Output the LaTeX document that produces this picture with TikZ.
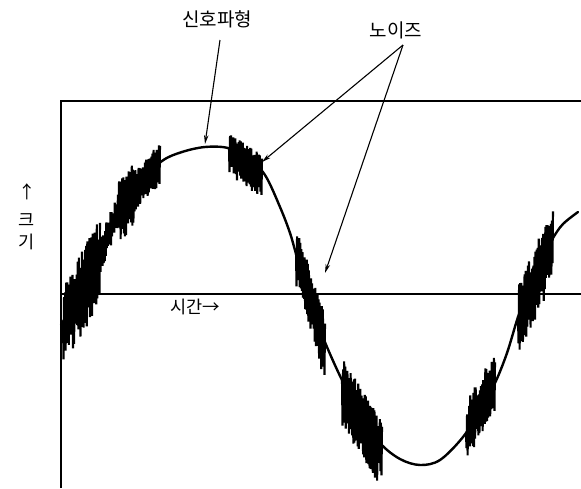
\documentclass[tikz,border=0pt]{standalone}
\usepackage{fontspec}
\newfontfamily\kr{Noto Sans CJK KR}
\usetikzlibrary{arrows.meta}
\tikzset{
  lbl/.style={font=\kr\fontsize{19}{20}\selectfont, inner sep=0pt},
  axlbl/.style={font=\kr\fontsize{17.5}{18}\selectfont, inner sep=0pt},
  frameline/.style={line width=1.5pt},
  wave/.style={line width=2.4pt, line join=round, line cap=round},
  noiseline/.style={line width=2.1pt, line join=miter},
  pointer/.style={line width=1.1pt, -{Stealth[length=9pt,width=4.5pt]}}
}
\newcommand\noiseburst[8]{%
  \pgfmathsetseed{#7}%
  \draw[noiseline] (#1,#2) \foreach \i in {1,...,#8}{
    -- ({#1+(#3-#1)*\i/#8}, {#2+(#4-#2)*\i/#8 + (mod(\i,2)==0 ? -(#5)*(0.45+0.55*rnd) : (#6)*(0.45+0.55*rnd))})
  };
}
\begin{document}
\begin{tikzpicture}[x=1pt,y=-1pt]
\useasboundingbox (0,0) rectangle (581,488);
% frame and axis
\coordinate (bl) at (61,488);
\coordinate (tl) at (61,101);
\coordinate (tr) at (581,101);
\coordinate (ol) at (61,294);
\coordinate (or) at (581,294);
\draw[frameline] (bl) -- (tl) -- (tr);
\draw[line width=1.4pt] (ol) -- (or);
% signal waveform
\draw[wave] plot[smooth, tension=0.55] coordinates {
 (61,325) (80,292) (97,262) (107,233) (120,207) (140,183) (162,161)
 (182,152) (205,147) (228,148) (248,158) (265,175) (280,207) (290,233)
 (297,257) (309,294) (320,328) (327,347) (342,380) (360,413) (380,443)
 (400,459) (420,465) (440,460) (463,437) (480,410) (495,383) (507,353)
 (518,317) (527,294) (540,262) (553,238) (563,224) (578,212)};
% noise bursts
\noiseburst{63}{322}{100}{258}{42}{46}{11}{70}
\noiseburst{100}{258}{120}{207}{20}{16}{12}{38}
\noiseburst{118}{210}{135}{188}{28}{36}{13}{32}
\noiseburst{130}{195}{160}{163}{20}{22}{14}{56}
\noiseburst{229}{148}{262}{170}{15}{32}{15}{62}
\noiseburst{296}{252}{325}{343}{28}{38}{16}{54}
\noiseburst{342}{380}{382}{445}{24}{46}{17}{74}
\noiseburst{466}{434}{495}{383}{32}{28}{18}{54}
\noiseburst{518}{317}{553}{238}{32}{42}{19}{64}
% labels
\node[lbl] (sig) at (217,19) {신호파형};
\node[lbl] (noi) at (396,30) {노이즈};
\node[axlbl] (time) at (195,307) {시간→};
\node[axlbl] (up) at (27,192) {↑};
\node[axlbl] (k1) at (27,220) {크};
\node[axlbl] (k2) at (27,242) {기};
% pointers
\coordinate (sigstart) at (220,40);
\coordinate (sigtip) at (205,144);
\coordinate (noiapex) at (403,45);
\coordinate (noitipA) at (262,162);
\coordinate (noitipB) at (325,273);
\draw[pointer] (sigstart) -- (sigtip);
\draw[pointer] (noiapex) -- (noitipA);
\draw[pointer] (noiapex) -- (noitipB);
\end{tikzpicture}
\end{document}
